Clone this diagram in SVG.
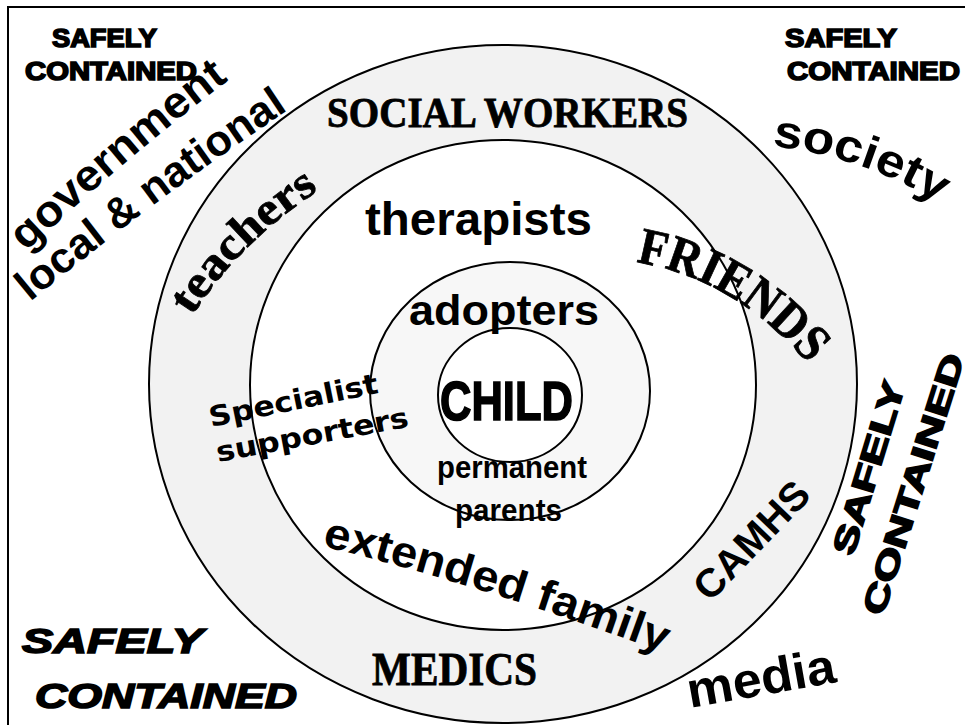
<svg xmlns="http://www.w3.org/2000/svg" xmlns:xlink="http://www.w3.org/1999/xlink" width="965" height="725" viewBox="0 0 965 725">
<style>
.ring{stroke:#000;stroke-width:2}
.sans{font-family:"Liberation Sans",Arial,sans-serif;font-weight:bold;fill:#000}
.heavy{font-family:"Liberation Sans",Arial,sans-serif;font-weight:bold;fill:#000;stroke:#000;stroke-width:1.6}
.deco{font-family:"Liberation Serif","Times New Roman",serif;font-weight:bold;fill:#000;stroke:#000;stroke-width:0.8}
.dv{font-family:"DejaVu Sans",Verdana,sans-serif;font-weight:bold;fill:#000}
</style>
<defs>
<path id="pGov" d="M 26 252 Q 125 158 234 76"/>
<path id="pLoc" d="M 30 302 Q 156 198 294 106"/>
<path id="pTea" d="M 192 316 Q 242 238 326 186"/>
<path id="pSoc" d="M 772 146 Q 870 158 945 207"/>
<path id="pFri" d="M 636 262 Q 732 278 805 360"/>
<path id="pExt" d="M 322 546 Q 475 583 662 652"/>
</defs>
<rect width="965" height="725" fill="#fff"/>
<path d="M8 725 V7 H965" fill="none" stroke="#000" stroke-width="2"/>
<g id="ring-outer"><ellipse class="ring" cx="503" cy="384" rx="354" ry="339" fill="#f2f2f2"/></g>
<g id="ring-inner"><ellipse class="ring" cx="503" cy="385" rx="253" ry="245" fill="#fff"/></g>
<g id="ring-adopters"><ellipse class="ring" cx="510" cy="391" rx="140" ry="129" fill="#f7f7f7"/></g>
<g id="ring-child"><ellipse class="ring" cx="510" cy="395" rx="72" ry="67" fill="#fff"/></g>

<g id="safely-tl">
<text class="heavy" x="52" y="47" font-size="25" textLength="105" lengthAdjust="spacingAndGlyphs">SAFELY</text>
<text class="heavy" x="25" y="80" font-size="25" textLength="172" lengthAdjust="spacingAndGlyphs">CONTAINED</text>
</g>
<g id="safely-tr">
<text class="heavy" x="785" y="47" font-size="25" textLength="112" lengthAdjust="spacingAndGlyphs">SAFELY</text>
<text class="heavy" x="787" y="80" font-size="25" textLength="173" lengthAdjust="spacingAndGlyphs">CONTAINED</text>
</g>
<g id="safely-bl">
<text class="heavy" x="22" y="653" font-size="35" font-style="italic" textLength="181" lengthAdjust="spacingAndGlyphs">SAFELY</text>
<text class="heavy" x="35" y="708" font-size="35" font-style="italic" textLength="262" lengthAdjust="spacingAndGlyphs">CONTAINED</text>
</g>
<g id="safely-r">
<text class="heavy" font-size="32" transform="translate(853 557) rotate(-73)" textLength="180" lengthAdjust="spacingAndGlyphs">SAFELY</text>
<text class="heavy" font-size="32" transform="translate(883 617) rotate(-72.5)" textLength="272" lengthAdjust="spacingAndGlyphs">CONTAINED</text>
</g>

<g id="government">
<text class="sans" font-size="44"><textPath xlink:href="#pGov" href="#pGov" textLength="266" lengthAdjust="spacingAndGlyphs">government</textPath></text>
<text class="sans" font-size="43"><textPath xlink:href="#pLoc" href="#pLoc" textLength="322" lengthAdjust="spacingAndGlyphs">local &amp; national</textPath></text>
</g>
<g id="society">
<text class="sans" font-size="46"><textPath xlink:href="#pSoc" href="#pSoc" textLength="178" lengthAdjust="spacingAndGlyphs">society</textPath></text>
</g>
<g id="media">
<text class="sans" font-size="50" transform="translate(690 708) rotate(-10)" textLength="150" lengthAdjust="spacingAndGlyphs">media</text>
</g>

<g id="social-workers">
<text class="deco" x="327" y="127" font-size="42" textLength="361" lengthAdjust="spacingAndGlyphs">SOCIAL WORKERS</text>
</g>
<g id="teachers">
<text class="deco" font-size="46"><textPath xlink:href="#pTea" href="#pTea" textLength="180" lengthAdjust="spacingAndGlyphs">teachers</textPath></text>
</g>
<g id="friends">
<text class="deco" font-size="52"><textPath xlink:href="#pFri" href="#pFri" textLength="205" lengthAdjust="spacingAndGlyphs">FRIENDS</textPath></text>
</g>
<g id="camhs">
<text class="sans" font-size="40" transform="translate(710 603) rotate(-46)" textLength="148" lengthAdjust="spacingAndGlyphs">CAMHS</text>
</g>
<g id="medics">
<text class="deco" x="372" y="685" font-size="46" textLength="165" lengthAdjust="spacingAndGlyphs">MEDICS</text>
</g>

<g id="therapists">
<text class="sans" x="365" y="235" font-size="46" textLength="227" lengthAdjust="spacingAndGlyphs">therapists</text>
</g>
<g id="specialist">
<text class="dv" font-size="28" transform="translate(211 427) rotate(-11.5)" textLength="172" lengthAdjust="spacingAndGlyphs">Specialist</text>
<text class="dv" font-size="28" transform="translate(218 462) rotate(-10.5)" textLength="195" lengthAdjust="spacingAndGlyphs">supporters</text>
</g>
<g id="extended-family">
<text class="sans" font-size="44"><textPath xlink:href="#pExt" href="#pExt" textLength="358" lengthAdjust="spacingAndGlyphs">extended family</textPath></text>
</g>

<g id="adopters">
<text class="sans" x="409" y="325" font-size="42" textLength="190" lengthAdjust="spacingAndGlyphs">adopters</text>
</g>
<g id="child">
<text class="heavy" x="440" y="420" font-size="55" stroke-width="4" textLength="133" lengthAdjust="spacingAndGlyphs">CHILD</text>
</g>
<g id="permanent-parents">
<text class="sans" x="437" y="478" font-size="32" textLength="150" lengthAdjust="spacingAndGlyphs">permanent</text>
<text class="sans" x="455" y="521" font-size="32" textLength="107" lengthAdjust="spacingAndGlyphs">parents</text>
</g>
<g id="connectors"/>
</svg>
